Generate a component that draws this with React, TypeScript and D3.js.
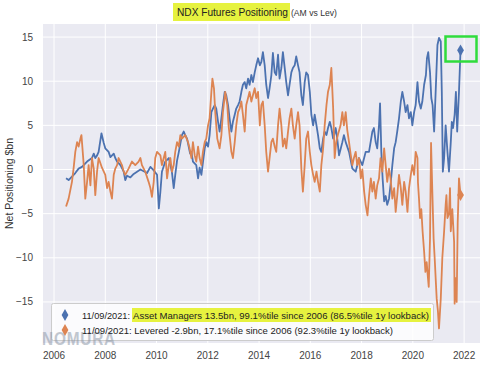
import React from 'react';
import * as d3 from 'd3';

const xTicks = [2006, 2008, 2010, 2012, 2014, 2016, 2018, 2020, 2022];
const yTicks = [-15, -10, -5, 0, 5, 10, 15];

const titleMain = 'NDX Futures Positioning';
const titleRest = '(AM vs Lev)';
const yLabel = 'Net Positioning $bn';
const legendDate = '11/09/2021:';
const legendAM = 'Asset Managers 13.5bn, 99.1%tile since 2006 (86.5%tile 1y lookback)';
const legendLev = '11/09/2021: Levered -2.9bn, 17.1%tile since 2006 (92.3%tile 1y lookback)';
const watermark = 'NOMURA';

// Asset Managers net positioning ($bn): [decimal year, value]
const assetManagers: [number, number][] = [
  [2006.47, -1.0], [2006.57, -1.2], [2006.70, -0.8], [2006.83, -0.4], [2006.96, 0.1], [2007.09, 0.3],
  [2007.29, 0.9], [2007.48, 1.3], [2007.55, 1.8], [2007.61, 1.3], [2007.68, 1.6], [2007.74, 2.0],
  [2007.85, 4.1], [2007.94, 3.0], [2008.00, 2.4], [2008.13, 2.0], [2008.20, 1.4], [2008.33, 1.8],
  [2008.39, 1.3], [2008.46, 0.9], [2008.59, 0.5], [2008.72, -0.25], [2008.78, -1.2], [2008.85, -0.7],
  [2008.98, -0.9], [2009.11, -0.5], [2009.24, -0.25], [2009.37, 0.0], [2009.50, -0.2], [2009.63, -0.4],
  [2009.76, 0.3], [2009.89, -0.1], [2010.02, -0.6], [2010.09, -4.4], [2010.15, -2.5], [2010.21, -0.25],
  [2010.34, 0.9], [2010.48, 1.3], [2010.54, 0.5], [2010.60, -0.3], [2010.67, -2.1], [2010.73, -0.6],
  [2010.80, 1.0], [2010.87, 2.0], [2010.99, 3.9], [2011.06, 4.3], [2011.12, 3.9], [2011.19, 3.5],
  [2011.31, 1.8], [2011.36, 2.0], [2011.42, 0.9], [2011.55, 0.5], [2011.62, -1.0], [2011.68, 0.2],
  [2011.75, -0.6], [2011.81, 0.8], [2011.88, 2.4], [2011.94, 3.1], [2012.01, 2.6], [2012.07, 3.9],
  [2012.14, 6.5], [2012.20, 6.9], [2012.27, 7.3], [2012.33, 6.9], [2012.40, 5.4], [2012.46, 4.3],
  [2012.53, 5.8], [2012.59, 7.3], [2012.66, 8.8], [2012.72, 8.4], [2012.79, 7.3], [2012.85, 5.8],
  [2012.92, 4.3], [2012.98, 5.4], [2013.05, 6.2], [2013.11, 6.9], [2013.18, 7.3], [2013.24, 7.7],
  [2013.31, 8.8], [2013.37, 9.6], [2013.44, 9.9], [2013.50, 9.2], [2013.57, 10.3], [2013.63, 9.6],
  [2013.70, 10.7], [2013.76, 9.9], [2013.83, 11.0], [2013.89, 11.8], [2013.96, 12.6], [2014.03, 11.8],
  [2014.09, 12.2], [2014.15, 13.3], [2014.22, 11.8], [2014.28, 9.6], [2014.35, 8.1], [2014.41, 9.2],
  [2014.48, 10.7], [2014.54, 13.2], [2014.61, 11.0], [2014.67, 10.7], [2014.74, 13.0], [2014.80, 10.3],
  [2014.87, 11.5], [2014.93, 13.3], [2015.00, 11.5], [2015.06, 9.9], [2015.13, 8.4], [2015.19, 9.6],
  [2015.26, 11.0], [2015.32, 11.5], [2015.39, 11.8], [2015.45, 12.8], [2015.52, 11.8], [2015.58, 11.0],
  [2015.65, 8.4], [2015.71, 7.3], [2015.78, 9.9], [2015.84, 11.0], [2015.91, 10.7], [2015.98, 8.8],
  [2016.04, 6.2], [2016.11, 5.0], [2016.17, 6.2], [2016.24, 5.0], [2016.30, 3.9], [2016.37, 2.4],
  [2016.43, 2.0], [2016.50, 3.5], [2016.56, 4.3], [2016.63, 3.9], [2016.69, 4.7], [2016.76, 5.4],
  [2016.82, 4.7], [2016.89, 3.5], [2016.93, 3.9], [2016.99, 4.7], [2017.05, 3.5], [2017.12, 1.6],
  [2017.19, 2.4], [2017.25, 3.1], [2017.31, 3.9], [2017.38, 3.1], [2017.51, 2.0], [2017.64, 0.1],
  [2017.77, -0.25], [2017.90, 1.3], [2018.03, 0.5], [2018.16, 2.0], [2018.29, 2.0], [2018.42, 4.3],
  [2018.48, 4.7], [2018.55, 3.1], [2018.61, 2.4], [2018.68, 5.0], [2018.72, 7.5], [2018.77, 2.0],
  [2018.82, -1.0], [2018.88, -3.6], [2018.94, -3.0], [2019.00, -4.0], [2019.07, -3.3], [2019.13, -1.75],
  [2019.20, 0.5], [2019.27, 2.4], [2019.33, 3.1], [2019.39, 4.3], [2019.46, 5.8], [2019.53, 7.7],
  [2019.59, 8.8], [2019.66, 7.7], [2019.72, 6.5], [2019.79, 7.3], [2019.85, 5.8], [2019.92, 6.5],
  [2019.98, 5.0], [2020.05, 6.5], [2020.11, 7.3], [2020.18, 9.9], [2020.24, 7.7], [2020.31, 6.9],
  [2020.37, 7.7], [2020.44, 9.6], [2020.51, 10.7], [2020.55, 12.6], [2020.60, 13.3], [2020.67, 11.0],
  [2020.72, 8.1], [2020.77, 7.3], [2020.83, 4.3], [2020.89, 8.8], [2020.96, 14.1], [2021.02, 14.9],
  [2021.09, 14.5], [2021.13, 8.8], [2021.17, -0.25], [2021.22, 1.3], [2021.28, 5.0], [2021.35, 2.0],
  [2021.41, -0.25], [2021.48, 3.1], [2021.52, 5.4], [2021.57, 4.7], [2021.63, 6.2], [2021.68, 8.8],
  [2021.73, 4.3], [2021.80, 8.8], [2021.86, 13.5],
];

// Levered funds net positioning ($bn): [decimal year, value]
const levered: [number, number][] = [
  [2006.47, -4.2], [2006.57, -3.3], [2006.70, -1.4], [2006.77, 0.3], [2006.83, 2.0], [2006.90, 3.1],
  [2006.96, 2.6], [2007.03, 3.5], [2007.07, 3.9], [2007.16, 0.5], [2007.22, -3.3], [2007.29, -1.4],
  [2007.35, 0.5], [2007.42, -1.8], [2007.48, 1.3], [2007.55, 0.1], [2007.61, -2.9], [2007.68, -0.2],
  [2007.74, 1.3], [2007.87, 0.2], [2008.00, -0.6], [2008.07, -2.1], [2008.13, -1.4], [2008.20, -2.5],
  [2008.26, -3.3], [2008.33, -0.6], [2008.39, 0.1], [2008.46, 0.5], [2008.52, 1.3], [2008.65, 0.5],
  [2008.72, -0.25], [2008.78, -0.6], [2008.91, 0.1], [2009.04, 0.9], [2009.17, 0.5], [2009.30, 0.9],
  [2009.37, 1.3], [2009.43, 0.5], [2009.56, -0.25], [2009.69, -1.4], [2009.76, -2.1], [2009.82, -3.1],
  [2009.89, -1.4], [2009.95, 1.3], [2010.02, 2.0], [2010.15, 1.6], [2010.21, 0.5], [2010.28, 1.3],
  [2010.34, 2.0], [2010.41, -1.0], [2010.48, 0.5], [2010.54, 1.3], [2010.60, -0.25], [2010.67, 0.5],
  [2010.73, 2.0], [2010.80, 3.1], [2010.87, 2.6], [2010.93, 3.9], [2010.99, 3.5], [2011.12, 3.9],
  [2011.23, 3.1], [2011.29, 2.4], [2011.36, 1.3], [2011.42, 3.1], [2011.49, 1.6], [2011.55, 0.9],
  [2011.62, 2.6], [2011.68, 1.3], [2011.75, 0.5], [2011.81, 2.0], [2011.88, 3.1], [2011.94, 3.5],
  [2012.01, 5.0], [2012.07, 5.8], [2012.14, 8.8], [2012.18, 10.3], [2012.24, 9.2], [2012.29, 6.5],
  [2012.37, 3.5], [2012.46, 2.4], [2012.53, 3.9], [2012.59, 6.5], [2012.68, 8.8], [2012.76, 7.3],
  [2012.81, 5.0], [2012.88, 3.1], [2012.92, 2.0], [2012.98, 1.3], [2013.05, 3.1], [2013.11, 5.0],
  [2013.18, 6.5], [2013.24, 6.9], [2013.31, 7.7], [2013.37, 6.2], [2013.44, 4.3], [2013.50, 7.3],
  [2013.57, 8.1], [2013.63, 8.8], [2013.70, 7.7], [2013.76, 8.4], [2013.83, 9.2], [2013.89, 8.1],
  [2013.96, 8.8], [2014.03, 5.0], [2014.09, 7.3], [2014.15, 7.7], [2014.22, 5.0], [2014.28, 2.0],
  [2014.35, -0.25], [2014.41, 1.3], [2014.48, 3.1], [2014.54, 3.5], [2014.61, 2.6], [2014.67, 2.0],
  [2014.74, 5.0], [2014.80, 6.9], [2014.87, 5.0], [2014.93, 2.6], [2015.00, 3.5], [2015.06, 2.4],
  [2015.13, 4.3], [2015.19, 5.8], [2015.26, 6.9], [2015.32, 5.0], [2015.39, 3.5], [2015.45, 5.0],
  [2015.52, 6.5], [2015.58, 5.0], [2015.65, 0.1], [2015.71, -2.5], [2015.78, 0.5], [2015.84, 3.5],
  [2015.91, 4.3], [2015.98, 2.0], [2016.04, 0.5], [2016.11, -0.6], [2016.17, -1.4], [2016.24, -0.25],
  [2016.30, -1.4], [2016.37, -2.5], [2016.43, 0.5], [2016.50, 2.4], [2016.56, 5.0], [2016.63, 7.3],
  [2016.69, 8.8], [2016.76, 9.6], [2016.82, 11.5], [2016.89, 7.0], [2016.95, 1.3], [2017.01, 3.1],
  [2017.08, 4.0], [2017.18, 5.0], [2017.25, 6.5], [2017.31, 5.0], [2017.38, 6.5], [2017.44, 4.5],
  [2017.51, 3.1], [2017.57, 1.8], [2017.64, 0.5], [2017.70, 1.3], [2017.77, 2.0], [2017.83, 0.5],
  [2017.90, 1.3], [2017.97, -1.0], [2018.03, 0.0], [2018.10, -2.5], [2018.16, -4.0], [2018.23, -5.2],
  [2018.29, -3.0], [2018.36, -1.0], [2018.42, -2.5], [2018.48, -1.4], [2018.55, -3.3], [2018.61, -1.8],
  [2018.68, -1.0], [2018.74, 1.3], [2018.81, -0.25], [2018.88, 2.4], [2018.94, 0.5], [2019.00, -1.4],
  [2019.07, 0.1], [2019.13, -1.0], [2019.20, -3.3], [2019.27, -2.1], [2019.33, -4.8], [2019.39, -3.0],
  [2019.46, -0.6], [2019.53, -2.1], [2019.59, -4.0], [2019.66, -1.4], [2019.72, -2.5], [2019.79, -4.8],
  [2019.85, -2.1], [2019.92, -0.6], [2019.98, 0.5], [2020.05, -0.6], [2020.11, 2.0], [2020.18, 1.3],
  [2020.20, -1.5], [2020.24, -3.3], [2020.28, -5.5], [2020.33, -4.5], [2020.38, -7.0], [2020.44, -9.3],
  [2020.49, -11.6], [2020.54, -10.5], [2020.59, -12.3], [2020.62, -13.3], [2020.67, -7.8], [2020.71, 3.0],
  [2020.76, -2.5], [2020.81, -7.8], [2020.86, -10.5], [2020.89, -12.3], [2020.93, -14.6], [2020.98, -16.1],
  [2021.02, -18.0], [2021.09, -14.6], [2021.15, -10.0], [2021.22, -7.0], [2021.28, -4.0], [2021.31, -2.9],
  [2021.35, -5.5], [2021.41, -5.0], [2021.45, -2.1], [2021.48, -7.0], [2021.54, -4.5], [2021.61, -8.2],
  [2021.63, -15.2], [2021.67, -12.3], [2021.71, -15.0], [2021.75, -6.0], [2021.80, -1.0], [2021.86, -2.9],
];

const BLUE = '#4c72b0';
const ORANGE = '#dd8452';
const HIGHLIGHT = '#e6f23f';
const FONT = '"Liberation Sans", Arial, Helvetica, sans-serif';

export default function App() {
  const W = 500, H = 375;
  const left = 43, right = 480, top = 24, bottom = 343;
  const x = d3.scaleLinear().domain([2005.57, 2022.62]).range([left, right]);
  const y = d3.scaleLinear().domain([-19.65, 16.48]).range([bottom, top]);
  const line = d3.line<[number, number]>().x(d => x(d[0])).y(d => y(d[1]));
  const amLast = assetManagers[assetManagers.length - 1];
  const levLast = levered[levered.length - 1];
  const diamond = d3.symbol().type(d3.symbolDiamond).size(40)() as string;

  return (
    <svg width={W} height={H} style={{ position: 'absolute', left: 0, top: 0, background: '#fff' }}
      fontFamily={FONT}>
      <rect x={left} y={top} width={right - left} height={bottom - top} fill="#eaeaf2" />
      {xTicks.map(t => (
        <line key={'gx' + t} x1={x(t)} x2={x(t)} y1={top} y2={bottom} stroke="#fff" strokeWidth={1} />
      ))}
      {yTicks.map(t => (
        <line key={'gy' + t} x1={left} x2={right} y1={y(t)} y2={y(t)} stroke="#fff" strokeWidth={1} />
      ))}
      {xTicks.map(t => (
        <text key={'tx' + t} x={x(t)} y={359} fontSize={10} fill="#444" textAnchor="middle">{t}</text>
      ))}
      {yTicks.map(t => (
        <text key={'ty' + t} x={33} y={y(t) + 3.5} fontSize={10} fill="#444" textAnchor="end">
          {t < 0 ? '\u2212' + Math.abs(t) : t}
        </text>
      ))}
      <text transform={`translate(13,${(top + bottom) / 2}) rotate(-90)`} fontSize={10.5} fill="#333"
        textAnchor="middle">{yLabel}</text>

      <path d={line(assetManagers) || ''} fill="none" stroke={BLUE} strokeWidth={1.8} strokeLinejoin="round" />
      <path d={line(levered) || ''} fill="none" stroke={ORANGE} strokeWidth={1.8} strokeLinejoin="round" />
      <path d={diamond} transform={`translate(${x(amLast[0])},${y(amLast[1])})`} fill={BLUE} />
      <path d={diamond} transform={`translate(${x(levLast[0])},${y(levLast[1])})`} fill={ORANGE} />

      <rect x={445.5} y={36.5} width={31} height={25} fill="none" stroke="#2fdc3c" strokeWidth={2.5} />

      {/* title */}
      <rect x={173} y={3} width={117} height={18} fill={HIGHLIGHT} />
      <text x={177} y={16} fontSize={10} fill="#222" textLength={111} lengthAdjust="spacingAndGlyphs">{titleMain}</text>
      <text x={291} y={16} fontSize={9.5} fill="#333" textLength={46} lengthAdjust="spacingAndGlyphs">{titleRest}</text>

      {/* legend */}
      <rect x={51.5} y={303.5} width={382} height={37} rx={2} fill="#fff" fillOpacity={0.8} stroke="#ccc" />
      <text x={42} y={345} fontSize={19} fontWeight="bold" fill="#8793a3" opacity={0.5}
        letterSpacing={1} textLength={74} lengthAdjust="spacingAndGlyphs">{watermark}</text>
      <path d={diamond} transform="translate(65,315)" fill={BLUE} />
      <path d={diamond} transform="translate(65,330)" fill={ORANGE} />
      <rect x={132} y={308} width={299} height={14} fill={HIGHLIGHT} />
      <text x={82} y={318.5} fontSize={9.5} fill="#222" textLength={48} lengthAdjust="spacingAndGlyphs">{legendDate}</text>
      <text x={133} y={318.5} fontSize={9.5} fill="#222" textLength={296} lengthAdjust="spacingAndGlyphs">{legendAM}</text>
      <text x={82} y={333.5} fontSize={9.5} fill="#222" textLength={311} lengthAdjust="spacingAndGlyphs">{legendLev}</text>
    </svg>
  );
}
